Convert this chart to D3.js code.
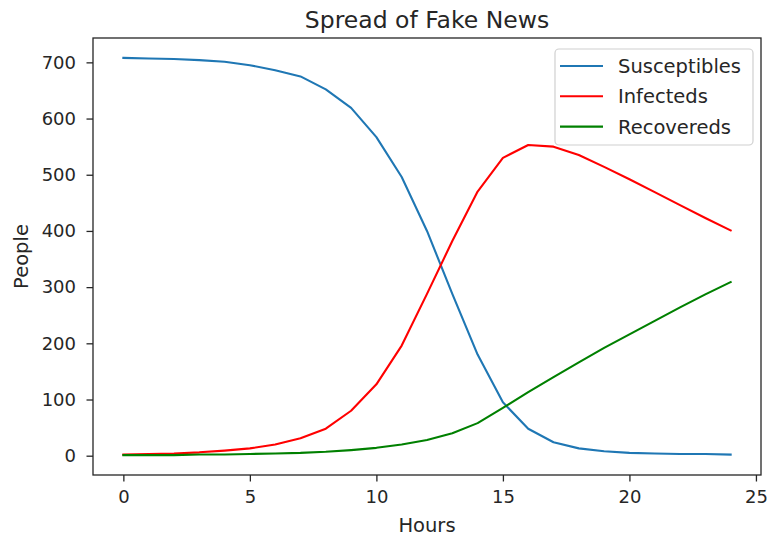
<!DOCTYPE html>
<html>
<head>
<meta charset="utf-8">
<script src="https://cdn.jsdelivr.net/npm/d3@7"></script>
<style>
  html, body { margin: 0; padding: 0; background: #fff; }
  svg { display: block; }
  text { font-family: "DejaVu Sans", sans-serif; fill: #262626; }
</style>
</head>
<body>
<svg id="chart" width="769" height="538"></svg>
<script>
const hours = d3.range(0, 25);
const susceptibles = [708, 707, 706, 704, 701, 695, 686, 675, 652, 619, 567, 496, 400, 288, 180, 95, 48, 24, 13, 8, 5, 4, 3, 3, 2];
const infecteds    = [2, 3, 4, 6, 9, 13, 20, 31, 48, 80, 127, 196, 288, 382, 470, 530, 553, 550, 535, 514, 492, 469, 446, 423, 401];
const recovereds   = [1, 1, 1, 2, 2, 3, 4, 5, 7, 10, 14, 20, 28, 40, 58, 85, 113, 140, 166, 192, 216, 240, 264, 287, 309];
const seriesNames  = ["Susceptibles", "Infecteds", "Recovereds"];
const seriesColors = ["#1f77b4", "#ff0000", "#008000"];
const xTicks = [0, 5, 10, 15, 20, 25];
const yTicks = [0, 100, 200, 300, 400, 500, 600, 700];

const svg = d3.select("#chart");
const L = 93, R = 761, T = 38, B = 475;

const allVals = susceptibles.concat(infecteds, recovereds);
const yMin = d3.min(allVals), yMax = d3.max(allVals);
const yPad = (yMax - yMin) * 0.05;
const xPad = (24 - 0) * 0.05;

const x = d3.scaleLinear().domain([0 - xPad, 24 + xPad]).range([L, R]);
const y = d3.scaleLinear().domain([yMin - yPad, yMax + yPad]).range([B, T]);

// lines
const series = [susceptibles, infecteds, recovereds];
const line = d3.line().x((d, i) => x(hours[i])).y(d => y(d));
const g = svg.append("g");
g.append("clipPath").attr("id", "clip").append("rect")
  .attr("x", L).attr("y", T).attr("width", R - L).attr("height", B - T);
series.forEach((s, k) => {
  g.append("path").datum(s)
    .attr("d", line)
    .attr("fill", "none")
    .attr("stroke", seriesColors[k])
    .attr("stroke-width", 2.1)
    .attr("stroke-linejoin", "round")
    .attr("stroke-linecap", "square")
    .attr("clip-path", "url(#clip)");
});

// axes
const xAxis = d3.axisBottom(x).tickValues(xTicks).tickSize(6.5).tickPadding(4).tickFormat(d3.format("d"));
const yAxis = d3.axisLeft(y).tickValues(yTicks).tickSize(6.5).tickPadding(9).tickFormat(d3.format("d"));

const gx = svg.append("g").attr("transform", `translate(0,${B})`).call(xAxis);
const gy = svg.append("g").attr("transform", `translate(${L},0)`).call(yAxis);
[gx, gy].forEach(a => {
  a.select(".domain").remove();
  a.selectAll(".tick line").attr("stroke", "#262626").attr("stroke-width", 1.3);
  a.selectAll(".tick text").attr("font-size", 18).attr("fill", "#262626")
    .style("font-family", "'DejaVu Sans', sans-serif");
});
gx.selectAll(".tick text").attr("dy", "0.71em").attr("y", 15);
gy.selectAll(".tick text").attr("x", -17);

// frame
svg.append("rect")
  .attr("x", L).attr("y", T).attr("width", R - L).attr("height", B - T)
  .attr("fill", "none").attr("stroke", "#262626").attr("stroke-width", 1.3);

// title & labels
svg.append("text").attr("x", (L + R) / 2).attr("y", 28)
  .attr("text-anchor", "middle").attr("font-size", 23.5).text("Spread of Fake News");
svg.append("text").attr("x", (L + R) / 2).attr("y", 532)
  .attr("text-anchor", "middle").attr("font-size", 19.5).text("Hours");
svg.append("text")
  .attr("transform", `translate(28,${(T + B) / 2}) rotate(-90)`)
  .attr("text-anchor", "middle").attr("font-size", 19.5).text("People");

// legend
const lg = svg.append("g");
lg.append("rect").attr("x", 555).attr("y", 49).attr("width", 198).attr("height", 96)
  .attr("rx", 4).attr("fill", "#fff").attr("fill-opacity", 0.8)
  .attr("stroke", "#d0d0d0").attr("stroke-width", 1.2);
seriesNames.forEach((name, k) => {
  const yy = 66 + k * 30.3;
  lg.append("line").attr("x1", 560).attr("x2", 603).attr("y1", yy).attr("y2", yy)
    .attr("stroke", seriesColors[k]).attr("stroke-width", 2.1);
  lg.append("text").attr("x", 618).attr("y", yy).attr("dy", "0.36em")
    .attr("font-size", 19.5).text(name);
});
</script>
</body>
</html>
